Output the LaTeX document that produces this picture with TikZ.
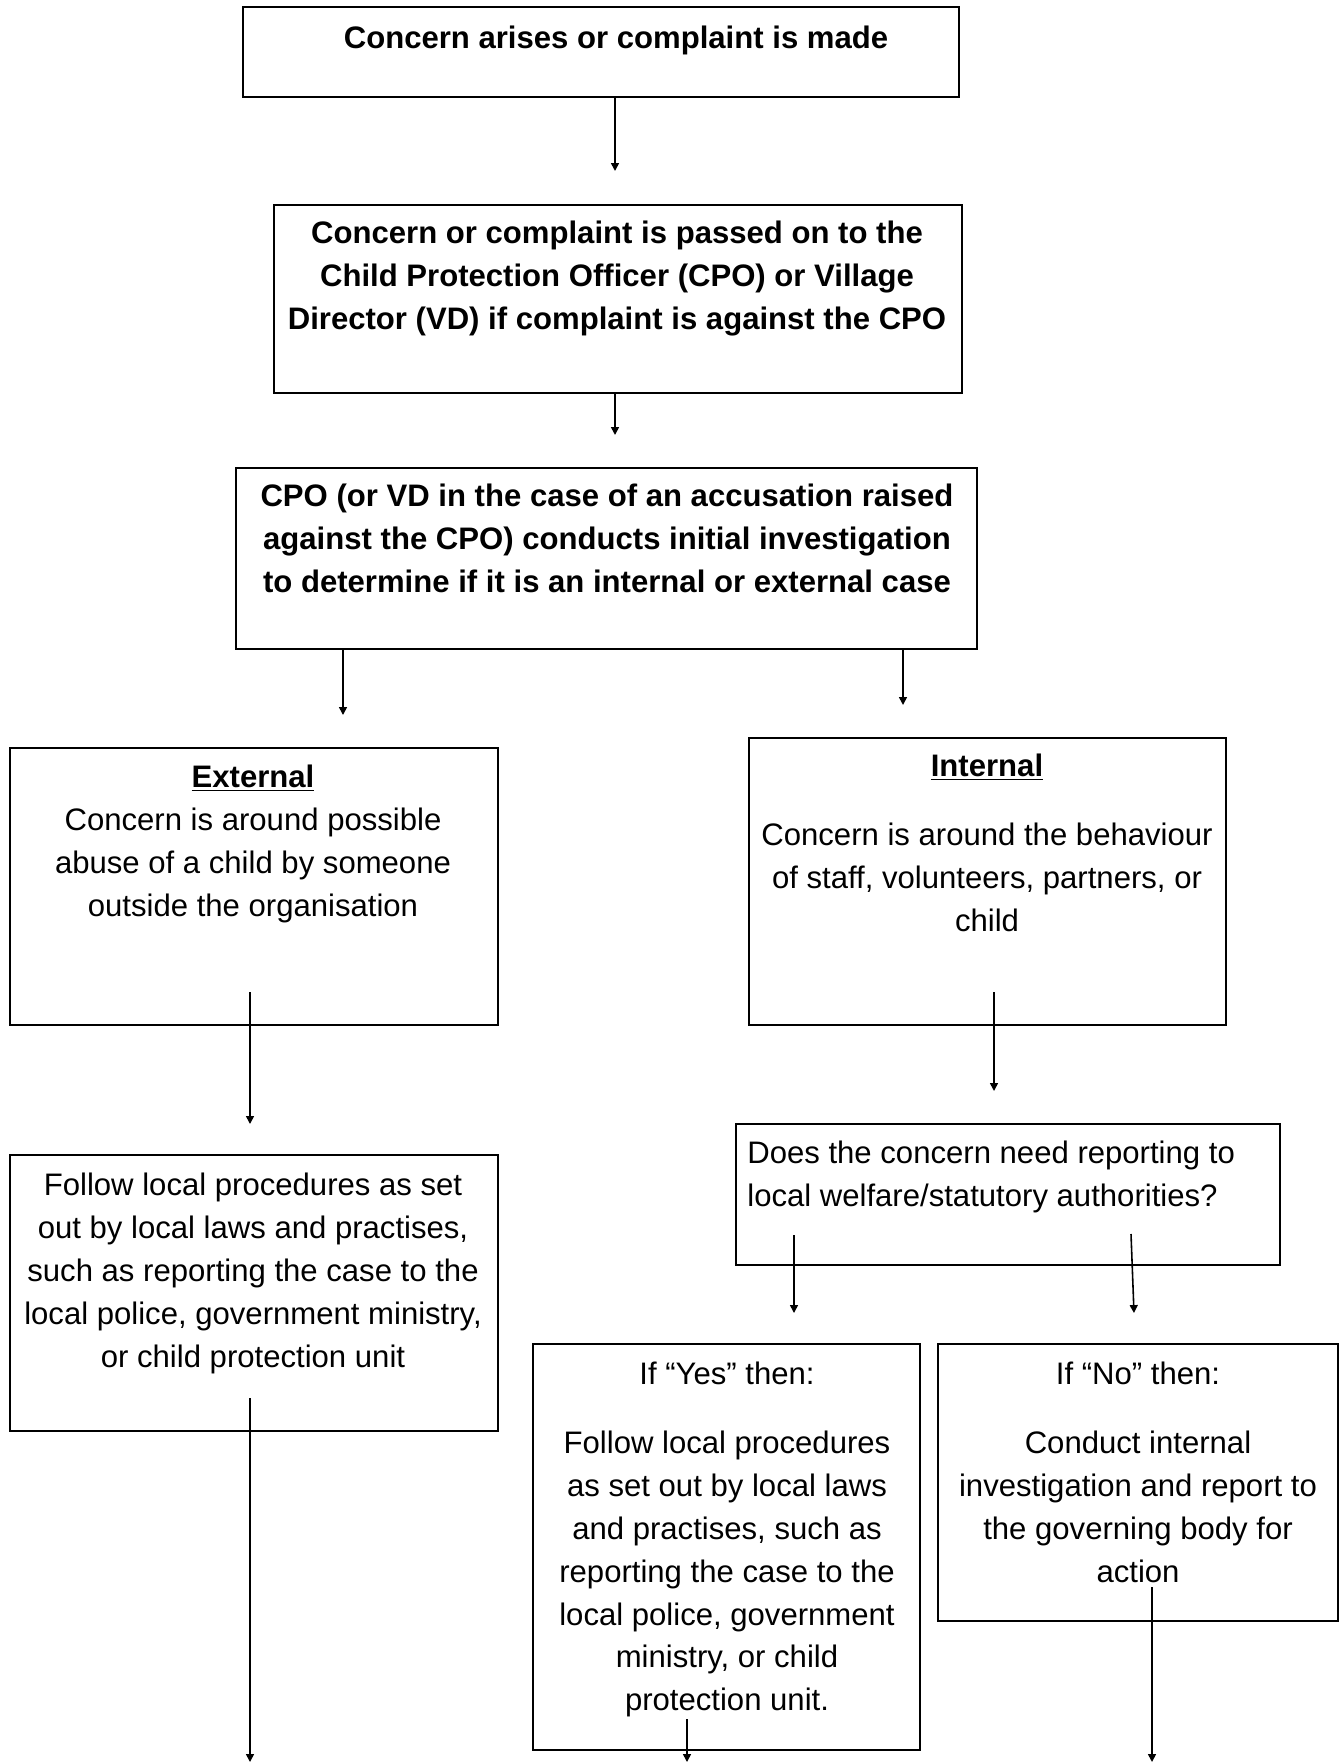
\documentclass[tikz,border=0pt]{standalone}
\usepackage{fontspec}
\setmainfont{Liberation Sans}
\usetikzlibrary{arrows.meta}
\begin{document}
\begin{tikzpicture}[x=0.02cm, y=-0.02cm,
		box/.style={draw, line width=0.9pt, rectangle, inner sep=0pt},
		txt/.style={inner sep=0pt, anchor=north, align=center, font=\fontsize{17.7pt}{24.4pt}\selectfont},
		arr/.style={line width=0.9pt, -{Triangle[length=4.5pt, width=4.5pt]}}]
		\useasboundingbox (0,0) rectangle (1344,1764);
		% boxes
		\node[box, minimum width=14.32cm, minimum height=1.8cm] (made) at (601,52) {};
		\node[box, minimum width=13.76cm, minimum height=3.76cm] (passed) at (618,299) {};
		\node[box, minimum width=14.82cm, minimum height=3.62cm] (initial) at (606.5,558.5) {};
		\node[box, minimum width=9.76cm, minimum height=5.54cm] (external) at (254,886.5) {};
		\node[box, minimum width=9.54cm, minimum height=5.74cm] (internal) at (987.5,881.5) {};
		\node[box, minimum width=9.76cm, minimum height=5.52cm] (localext) at (254,1293) {};
		\node[box, minimum width=10.88cm, minimum height=2.82cm] (question) at (1008,1194.5) {};
		\node[box, minimum width=7.74cm, minimum height=8.12cm] (yes) at (726.5,1547) {};
		\node[box, minimum width=8cm, minimum height=5.54cm] (no) at (1138,1482.5) {};
		% texts
		\node[txt] (madetxt) at (616,26) {\textbf{Concern arises or complaint is made}};
		\node[txt] (passedtxt) at (617,221) {\textbf{Concern or complaint is passed on to the}\\
			\textbf{Child Protection Officer (CPO) or Village}\\
			\textbf{Director (VD) if complaint is against the CPO}};
		\node[txt] (initialtxt) at (607,484) {\textbf{CPO (or VD in the case of an accusation raised}\\
			\textbf{against the CPO) conducts initial investigation}\\
			\textbf{to determine if it is an internal or external case}};
		\node[txt] (externaltxt) at (253,765) {\underline{\textbf{External}}\\
			Concern is around possible\\ abuse of a child by someone\\ outside the organisation};
		\node[txt] (internaltxt) at (987,754) {\underline{\textbf{Internal}}\\[14.7pt]
			Concern is around the behaviour\\ of staff, volunteers, partners, or\\ child};
		\node[txt] (localexttxt) at (253,1173) {Follow local procedures as set\\ out by local laws and practises,\\
			such as reporting the case to the\\ local police, government ministry,\\ or child protection unit};
		\node[txt, anchor=north west, align=left] (questiontxt) at (747,1141) {Does the concern need reporting to\\
			local welfare/statutory authorities?};
		\node[txt] (yestxt) at (727,1362) {If “Yes” then:\\[14.7pt]
			Follow local procedures\\ as set out by local laws\\ and practises, such as\\ reporting the case to the\\
			local police, government\\ ministry, or child\\ protection unit.};
		\node[txt] (notxt) at (1138,1362) {If “No” then:\\[14.7pt]
			Conduct internal\\ investigation and report to\\ the governing body for\\ action};
		% arrows
		\coordinate (e1) at (615,171);
		\coordinate (e2) at (615,435);
		\coordinate (e3) at (343,715);
		\coordinate (e4) at (903,705);
		\coordinate (s5) at (250,992);
		\coordinate (e5) at (250,1124);
		\coordinate (s6) at (994,992);
		\coordinate (e6) at (994,1091);
		\coordinate (s7) at (794,1235);
		\coordinate (e7) at (794,1313);
		\coordinate (s8) at (1131,1234);
		\coordinate (e8) at (1134,1313);
		\coordinate (s9) at (250,1398);
		\coordinate (e9) at (250,1762);
		\coordinate (s10) at (687,1719);
		\coordinate (e10) at (687,1762);
		\coordinate (s11) at (1152,1587);
		\coordinate (e11) at (1152,1762);
		\draw[arr] (made.south -| e1) -- (e1);
		\draw[arr] (passed.south -| e2) -- (e2);
		\draw[arr] (initial.south -| e3) -- (e3);
		\draw[arr] (initial.south -| e4) -- (e4);
		\draw[arr] (s5) -- (e5);
		\draw[arr] (s6) -- (e6);
		\draw[arr] (s7) -- (e7);
		\draw[arr] (s8) -- (e8);
		\draw[arr] (s9) -- (e9);
		\draw[arr] (s10) -- (e10);
		\draw[arr] (s11) -- (e11);
	\end{tikzpicture}
\end{document}
